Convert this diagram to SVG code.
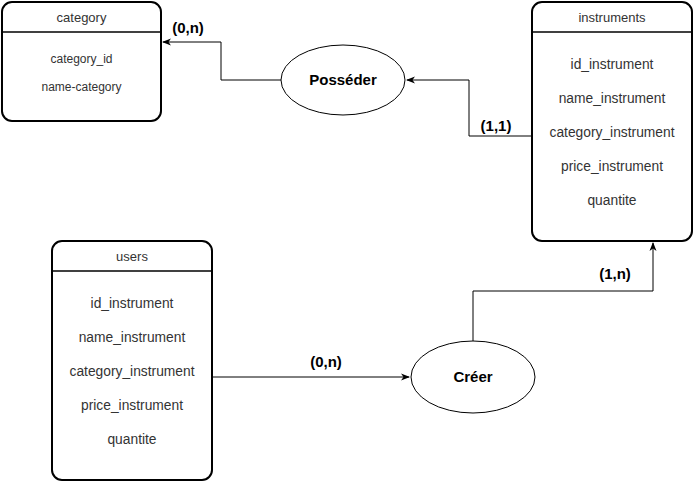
<svg xmlns="http://www.w3.org/2000/svg" width="693" height="482" viewBox="0 0 693 482">
<style>
.box{fill:#fff;stroke:#000;stroke-width:2}
.hl{stroke:#000;stroke-width:1.5}
.t{font-family:"Liberation Sans",Arial,sans-serif;font-size:13px;fill:#333;text-anchor:middle}
.f{font-family:"Liberation Sans",Arial,sans-serif;font-size:13.8px;fill:#333;text-anchor:middle}
.fs{font-family:"Liberation Sans",Arial,sans-serif;font-size:12px;fill:#333;text-anchor:middle}
.ell{fill:#fff;stroke:#000;stroke-width:1}
.b{font-family:"Liberation Sans",Arial,sans-serif;font-size:15px;font-weight:bold;fill:#000;text-anchor:middle}
.c{fill:none;stroke:#000;stroke-width:1}
</style>
<defs>
<marker id="ar" markerWidth="10" markerHeight="10" refX="8" refY="5" orient="auto" markerUnits="userSpaceOnUse">
<path d="M0,1.5 L9,5 L0,8.5 L2.5,5 Z" fill="#000"/>
</marker>
</defs>
<rect width="693" height="482" fill="#fff"/>
<g id="connectors">
<path class="c" d="M281,80 H221 V42 H163" marker-end="url(#ar)"/>
<path class="c" d="M532,136 H469 V80 H407" marker-end="url(#ar)"/>
<path class="c" d="M212,377 H409" marker-end="url(#ar)"/>
<path class="c" d="M473,341 V291 H653 V243" marker-end="url(#ar)"/>
<text class="b" x="188" y="33">(0,n)</text>
<text class="b" x="496" y="131">(1,1)</text>
<text class="b" x="326" y="367">(0,n)</text>
<text class="b" x="615" y="279">(1,n)</text>
</g>
<g id="category">
<rect class="box" x="2" y="2" width="159" height="119" rx="10"/>
<line class="hl" x1="2" y1="32" x2="161" y2="32"/>
<text class="t" x="81.5" y="22">category</text>
<text class="fs" x="81.5" y="63">category_id</text>
<text class="fs" x="81.5" y="91">name-category</text>
</g>
<g id="instruments">
<rect class="box" x="532" y="2" width="160" height="239" rx="10"/>
<line class="hl" x1="532" y1="32" x2="692" y2="32"/>
<text class="t" x="612" y="22">instruments</text>
<text class="f" x="612" y="69">id_instrument</text>
<text class="f" x="612" y="103">name_instrument</text>
<text class="f" x="612" y="137">category_instrument</text>
<text class="f" x="612" y="171">price_instrument</text>
<text class="f" x="612" y="205">quantite</text>
</g>
<g id="users">
<rect class="box" x="52" y="241" width="160" height="239" rx="10"/>
<line class="hl" x1="52" y1="271" x2="212" y2="271"/>
<text class="t" x="132" y="261">users</text>
<text class="f" x="132" y="308">id_instrument</text>
<text class="f" x="132" y="342">name_instrument</text>
<text class="f" x="132" y="376">category_instrument</text>
<text class="f" x="132" y="410">price_instrument</text>
<text class="f" x="132" y="444">quantite</text>
</g>
<g id="posseder">
<ellipse class="ell" cx="343" cy="80" rx="62" ry="35"/>
<text class="b" x="343" y="85">Posséder</text>
</g>
<g id="creer">
<ellipse class="ell" cx="473" cy="377" rx="62" ry="36"/>
<text class="b" x="473" y="382">Créer</text>
</g>
</svg>
